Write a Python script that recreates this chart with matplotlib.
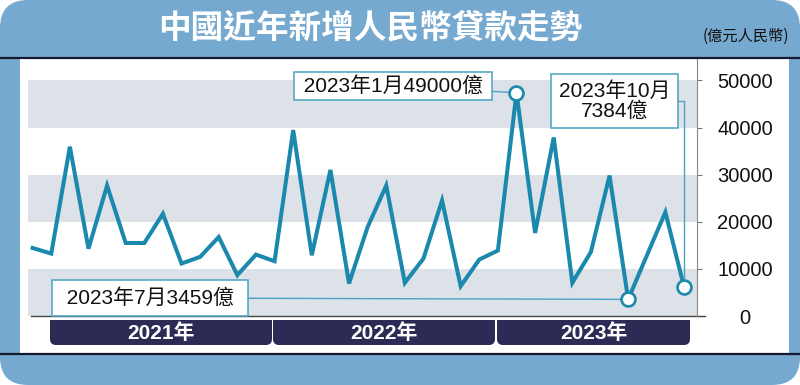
import matplotlib
matplotlib.use("Agg")

import numpy as np
import matplotlib.pyplot as plt
from matplotlib.patches import FancyBboxPatch, Rectangle

plt.rcParams['font.family'] = ['Liberation Sans', 'Noto Sans CJK TC']

# monthly new RMB loans (億元), Nov 2020 - Oct 2023
months = [f"{y}-{m:02d}" for y in (2020, 2021, 2022, 2023) for m in range(1, 13)][10:46]
loans = [14440, 13250,
         35940, 14300, 27700, 15500, 15500, 21700, 11140, 12550, 16770, 8670, 13040, 11630,
         39470, 12900, 31010, 6910, 18880, 27700, 7050, 12190, 24520, 6340, 11980, 13900,
         47400, 17620, 37900, 7050, 13600, 29810, 3530, 12800, 22050, 6200]
years = ["2021年", "2022年", "2023年"]
y_ticks = [0, 10000, 20000, 30000, 40000, 50000]
bands = [(0, 10000), (20000, 30000), (40000, 50000)]
callouts = {"2023-01": "2023年1月49000億",
            "2023-07": "2023年7月3459億",
            "2023-10": "2023年10月\n7384億"}

title = "中國近年新增人民幣貸款走勢"
unit = "(億元人民幣)"

line_c = "#1b88ad"
box_c = "#4aa3c2"
band_c = "#dde1e8"
blue_bg = "#76a9cf"
navy = "#2c2b55"

W, H = 800, 385
fig = plt.figure(figsize=(W / 100, H / 100), dpi=100, facecolor="white")

# background layer in pixel units
bg = fig.add_axes([0, 0, 1, 1], zorder=0)
bg.set_xlim(0, W)
bg.set_ylim(H, 0)
bg.axis("off")
bg.add_patch(FancyBboxPatch((0, 0), W, H, boxstyle="round,pad=0,rounding_size=28",
                            fc=blue_bg, ec="none"))
bg.add_patch(Rectangle((20, 58), 769, 295, fc="white", ec="none"))
bg.plot([0, W], [57.5, 57.5], color="#151a2e", lw=1.6)
bg.plot([0, W], [353.5, 353.5], color="#151a2e", lw=1.6)
bg.text(370, 28, title, ha="center", va="center", fontsize=23.5, weight="bold",
        color="white", family="Noto Sans CJK TC")
bg.text(746, 36, unit, ha="center", va="center", fontsize=11, color="#111111",
        family="Noto Sans CJK TC")

# year strip under the chart
year_spans = [(50, 272), (273, 495), (497, 690)]
for label, (x0, x1) in zip(years, year_spans):
    bg.add_patch(FancyBboxPatch((x0, 320), x1 - x0, 25, boxstyle="round,pad=0,rounding_size=6",
                                fc=navy, ec="none"))
    bg.add_patch(Rectangle((x0, 320), x1 - x0, 12, fc=navy, ec="none"))
    bg.text((x0 + x1) / 2, 333, label, ha="center", va="center", fontsize=15,
            weight="bold", color="white")

# main chart
ax = fig.add_axes([28 / W, 69 / H, 669 / W, 257 / H], zorder=1)
ax.patch.set_visible(False)
x = np.arange(len(loans))
for lo, hi in bands:
    ax.axhspan(lo, hi, color=band_c, lw=0, zorder=0)

ax.plot(x, loans, color=line_c, lw=2.9, solid_joinstyle="miter", zorder=3)

ax.set_xlim(-0.25, 35.7)
ax.set_ylim(0, 54560)
ax.set_xticks([])
ax.set_yticks(y_ticks)
ax.set_yticklabels([str(v) for v in y_ticks])
ax.yaxis.tick_right()
ax.tick_params(axis="y", length=3.6, width=0.8, color="#777777", pad=31,
               labelsize=14.5, labelcolor="#111111")
for lbl in ax.get_yticklabels():
    lbl.set_ha("center")
for s in ("top", "left", "bottom"):
    ax.spines[s].set_visible(False)
ax.spines["right"].set_color("#888888")
ax.spines["right"].set_linewidth(0.8)
ax.plot([0.005, 1.012], [0, 0], transform=ax.transAxes, color="#444444", lw=1.0,
        clip_on=False, zorder=2)

# callouts: box centre in pixel units, box padding and connector shape
callout_pos = {"2023-01": ((393, 86), 0.2, "arc3,rad=0"),
               "2023-07": ((150, 298), 0.4, "arc3,rad=0"),
               "2023-10": ((614.5, 101), 0.35, "angle,angleA=0,angleB=90,rad=0")}
for key, text in callouts.items():
    i = months.index(key)
    (tx, ty), pad, conn = callout_pos[key]
    ax.annotate(f" {text} " if "\n" not in text else text,
                xy=(i, loans[i]), xytext=(tx, ty), textcoords=bg.transData,
                ha="center", va="center", fontsize=15, linespacing=1.0,
                color="#111111", annotation_clip=False, zorder=4,
                bbox=dict(boxstyle=f"square,pad={pad}", fc="white", ec=box_c, lw=1.1),
                arrowprops=dict(arrowstyle="-", color=box_c, lw=1.0, shrinkA=0,
                                shrinkB=5, connectionstyle=conn))
    ax.plot(i, loans[i], "o", ms=10, mfc="white", mec=line_c, mew=1.9, zorder=5)

fig.savefig("out.png", dpi=100, facecolor="white")
